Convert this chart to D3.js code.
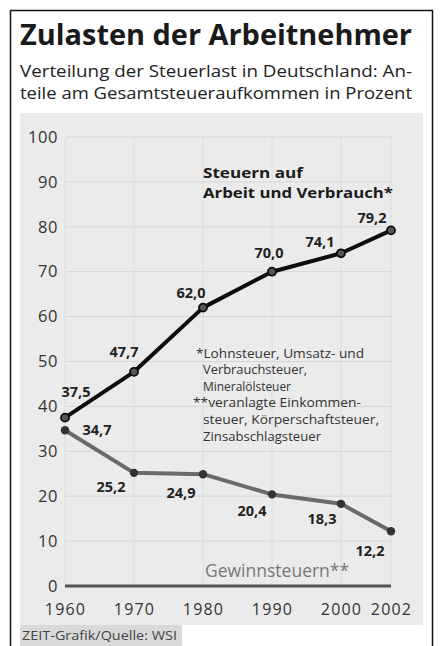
<!DOCTYPE html>
<html><head><meta charset="utf-8">
<script src="https://cdn.jsdelivr.net/npm/d3@7"></script>
<style>body{margin:0;background:#fff}svg{display:block}</style>
</head><body>
<script>
const years = [1960, 1970, 1980, 1990, 2000, 2002];
const arbeitVerbrauch = [37.5, 47.7, 62.0, 70.0, 74.1, 79.2];
const gewinnsteuern = [34.7, 25.2, 24.9, 20.4, 18.3, 12.2];
const yTicks = [0, 10, 20, 30, 40, 50, 60, 70, 80, 90, 100];
const title = "Zulasten der Arbeitnehmer";
const subtitle = ["Verteilung der Steuerlast in Deutschland: An-", "teile am Gesamtsteueraufkommen in Prozent"];
const seriesLabel1 = ["Steuern auf", "Arbeit und Verbrauch*"];
const seriesLabel2 = "Gewinnsteuern**";
const footnotes = ["*Lohnsteuer, Umsatz- und", "Verbrauchsteuer,", "Mineralölsteuer", "**veranlagte Einkommen-", "steuer, Körperschaftsteuer,", "Zinsabschlagsteuer"];
const source = "ZEIT-Grafik/Quelle: WSI";

const W = 441, H = 646;
const font = "'Open Sans', 'DejaVu Sans', sans-serif";
const svg = d3.select("body").append("svg").attr("width", W).attr("height", H);

// frame
svg.append("rect").attr("x", 10.5).attr("y", 10.5).attr("width", 422).attr("height", 640)
  .attr("fill", "#fff").attr("stroke", "#111").attr("stroke-width", 1.5);

svg.append("text").attr("x", 20).attr("y", 45).attr("font-family", font).attr("font-weight", 700)
  .attr("font-size", 28.5).attr("fill", "#1a1a1a").attr("textLength", 392).attr("lengthAdjust", "spacingAndGlyphs").text(title);
subtitle.forEach((s, i) => svg.append("text").attr("x", 20).attr("y", 77 + i * 22)
  .attr("font-family", font).attr("font-size", 16.5).attr("fill", "#222")
  .attr("textLength", 392).attr("lengthAdjust", "spacingAndGlyphs").text(s));

// panel
svg.append("rect").attr("x", 20).attr("y", 113).attr("width", 403).attr("height", 512).attr("fill", "#ebebeb");
svg.append("rect").attr("x", 20).attr("y", 625).attr("width", 162).attr("height", 21).attr("fill", "#d9d9d9");
svg.append("text").attr("x", 22).attr("y", 640).attr("font-family", font).attr("font-size", 12.5)
  .attr("fill", "#444").attr("textLength", 155).attr("lengthAdjust", "spacingAndGlyphs").text(source);

const x = d3.scaleLinear().domain([1960, 2000, 2002]).range([65, 341, 391]);
const y = d3.scaleLinear().domain([0, 100]).range([586, 137]);

// gridlines
svg.append("g").selectAll("line").data(yTicks.filter(d => d > 0)).join("line")
  .attr("x1", 66).attr("x2", 393).attr("y1", d => y(d)).attr("y2", d => y(d))
  .attr("stroke", "#d6d6d6").attr("stroke-width", 1);
svg.append("g").selectAll("line").data(years).join("line")
  .attr("x1", d => x(d)).attr("x2", d => x(d)).attr("y1", y(100)).attr("y2", y(0))
  .attr("stroke", "#dedede").attr("stroke-width", 1);

// y axis labels
const yAxis = d3.axisLeft(y).tickValues(yTicks).tickSize(0).tickPadding(0);
const ya = svg.append("g").attr("transform", "translate(58,0)").call(yAxis);
ya.select(".domain").remove();
ya.selectAll("text").attr("font-family", font).attr("font-size", 16.5).attr("fill", "#333")
  .attr("letter-spacing", 0.6);

const xAxis = d3.axisBottom(x).tickValues(years).tickFormat(d3.format("d")).tickSize(0).tickPadding(0);
const xa = svg.append("g").attr("transform", "translate(0,609)").call(xAxis);
xa.select(".domain").remove();
xa.selectAll("text").attr("y", 0).attr("dy", null).attr("dominant-baseline", "central")
  .attr("font-family", font).attr("font-size", 16).attr("fill", "#333").attr("letter-spacing", 1.2);

// baseline
svg.append("line").attr("x1", x(1960)).attr("x2", x(2002)).attr("y1", y(0)).attr("y2", y(0))
  .attr("stroke", "#555").attr("stroke-width", 3);

const line = d3.line().x((d, i) => x(years[i])).y(d => y(d));

svg.append("path").datum(gewinnsteuern).attr("d", line).attr("fill", "none")
  .attr("stroke", "#6a6a6a").attr("stroke-width", 4).attr("stroke-linejoin", "round");
svg.append("g").selectAll("circle").data(gewinnsteuern).join("circle")
  .attr("cx", (d, i) => x(years[i])).attr("cy", d => y(d)).attr("r", 4.2).attr("fill", "#333");

svg.append("path").datum(arbeitVerbrauch).attr("d", line).attr("fill", "none")
  .attr("stroke", "#0d0d0d").attr("stroke-width", 4).attr("stroke-linejoin", "round");
svg.append("g").selectAll("circle").data(arbeitVerbrauch).join("circle")
  .attr("cx", (d, i) => x(years[i])).attr("cy", d => y(d)).attr("r", 4)
  .attr("fill", "#555").attr("stroke", "#0d0d0d").attr("stroke-width", 1.8);

const fmt = v => d3.format(".1f")(v).replace(".", ",");
// value label offsets relative to points (centre of text)
const off1 = [[11, -26], [-10, -20], [-12, -15], [-3, -19], [-21, -12], [-19, -13]];
const off2 = [[32, -1], [-23, 14], [-22, 18], [-20, 16], [-19, 15], [-21, 19]];
const labelStyle = sel => sel.attr("text-anchor", "middle").attr("dominant-baseline", "central")
  .attr("font-family", font).attr("font-weight", 700).attr("font-size", 14.5).attr("fill", "#222");
svg.append("g").selectAll("text").data(arbeitVerbrauch).join("text")
  .attr("x", (d, i) => x(years[i]) + off1[i][0]).attr("y", (d, i) => y(d) + off1[i][1])
  .call(labelStyle).text(fmt);
svg.append("g").selectAll("text").data(gewinnsteuern).join("text")
  .attr("x", (d, i) => x(years[i]) + off2[i][0]).attr("y", (d, i) => y(d) + off2[i][1])
  .call(labelStyle).text(fmt);

const s1len = [100, 190];
seriesLabel1.forEach((s, i) => svg.append("text").attr("x", 203).attr("y", 172 + i * 20)
  .attr("dominant-baseline", "central")
  .attr("font-family", font).attr("font-weight", 700).attr("font-size", 14.5).attr("fill", "#1a1a1a")
  .attr("textLength", s1len[i]).attr("lengthAdjust", "spacingAndGlyphs").text(s));

svg.append("text").attr("x", 205).attr("y", 570).attr("dominant-baseline", "central")
  .attr("font-family", font).attr("font-size", 17.5).attr("fill", "#777").text(seriesLabel2);

footnotes.forEach((s, i) => svg.append("text").attr("x", (i === 0 ? 196 : i === 3 ? 193 : 203)).attr("y", 353 + i * 16.6)
  .attr("dominant-baseline", "central")
  .attr("font-family", font).attr("font-size", 12.5).attr("fill", "#333")
  .attr("textLength", [168, 104, 88, 168, 176, 118][i]).attr("lengthAdjust", "spacingAndGlyphs").text(s));
</script>
</body></html>
